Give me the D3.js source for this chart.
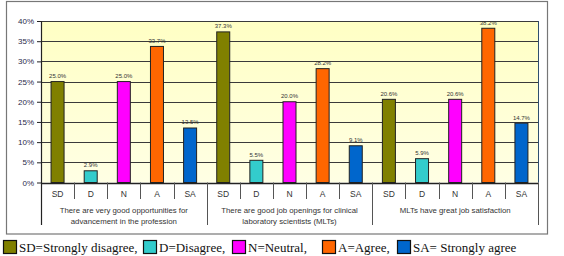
<!DOCTYPE html>
<html>
<head>
<meta charset="utf-8">
<script src="https://cdn.jsdelivr.net/npm/d3@7"></script>
<style>
  body { margin: 0; background: #fff; }
  svg { display: block; }
</style>
</head>
<body>
<div id="chart"></div>
<script>
// data
const groups = [
    ["There are very good opportunities for", "advancement in the profession"],
    ["There are good job openings for clinical", "laboratory scientists (MLTs)"],
    ["MLTs have great job satisfaction"]
];
const responses = ["SD", "D", "N", "A", "SA"];
const values = [
    [25.0, 2.9, 25.0, 33.7, 13.5],
    [37.3, 5.5, 20.0, 28.2, 9.1],
    [20.6, 5.9, 20.6, 38.2, 14.7]
];
const legendLabels = ["SD=Strongly disagree,", "D=Disagree,", "N=Neutral,", "A=Agree,", "SA= Strongly agree"];
const colors = ["#808000", "#33CCCC", "#FF00FF", "#FF6600", "#0066CC"];
const yTicks = [0, 5, 10, 15, 20, 25, 30, 35, 40];

const width = 564, height = 256;
const plot = {left: 41, right: 538, top: 21, bottom: 182.5};

const svg = d3.select("#chart").append("svg")
    .attr("width", width)
    .attr("height", height);

// outer frame
svg.append("rect")
    .attr("x", 6.5).attr("y", 1.5)
    .attr("width", 541).attr("height", 232.5)
    .attr("fill", "none")
    .attr("stroke", "#777")
    .attr("stroke-width", 1.2);

const grad = svg.append("defs").append("linearGradient")
    .attr("id", "bg").attr("x1", 0).attr("y1", 0).attr("x2", 0).attr("y2", 1);
grad.append("stop").attr("offset", 0).attr("stop-color", "#FFFFC4");
grad.append("stop").attr("offset", 1).attr("stop-color", "#FFFFE4");

// flat list of bars
const bars = [];
values.forEach((row, g) => row.forEach((v, i) => {
    bars.push({key: g + "-" + i, g: g, i: i, v: v});
}));

const x = d3.scaleBand()
    .domain(bars.map(d => d.key))
    .range([plot.left, plot.right])
    .padding(0);
const y = d3.scaleLinear()
    .domain([0, 40])
    .range([plot.bottom, plot.top]);

svg.append("rect")
    .attr("x", plot.left).attr("y", plot.top)
    .attr("width", plot.right - plot.left)
    .attr("height", plot.bottom - plot.top)
    .attr("fill", "url(#bg)");

// gridlines
svg.append("g")
    .selectAll("line")
    .data(yTicks)
    .join("line")
    .attr("x1", plot.left).attr("x2", plot.right)
    .attr("y1", d => Math.round(y(d)) + 0.5)
    .attr("y2", d => Math.round(y(d)) + 0.5)
    .attr("stroke", "#3a3a3a")
    .attr("stroke-width", 1.2);

// right border of plot
svg.append("line")
    .attr("x1", plot.right + 0.5).attr("x2", plot.right + 0.5)
    .attr("y1", plot.top).attr("y2", plot.bottom)
    .attr("stroke", "#2f4f6f");

// y axis
const yAxis = svg.append("g")
    .attr("transform", "translate(" + plot.left + ",0)")
    .call(d3.axisLeft(y).tickValues(yTicks).tickFormat(d => d + "%").tickSize(4).tickPadding(3));
yAxis.select(".domain").remove();
yAxis.selectAll("line").attr("stroke", "#222");
yAxis.selectAll("text")
    .style("font-family", "Arial, 'Liberation Sans', sans-serif")
    .style("font-size", "8px")
    .attr("fill", "#2a2a4a");

// axis lines
svg.append("line")
    .attr("x1", plot.left + 0.5).attr("x2", plot.left + 0.5)
    .attr("y1", plot.top).attr("y2", 225)
    .attr("stroke", "#222").attr("stroke-width", 1.2);

// bars
const barW = 13;
svg.append("g")
    .selectAll("rect")
    .data(bars)
    .join("rect")
    .attr("x", d => x(d.key) + x.bandwidth() / 2 - barW / 2)
    .attr("y", d => y(d.v))
    .attr("width", barW)
    .attr("height", d => y(0) - y(d.v))
    .attr("fill", d => colors[d.i])
    .attr("stroke", "#222")
    .attr("stroke-width", 1);

// value labels
svg.append("g")
    .selectAll("text")
    .data(bars)
    .join("text")
    .attr("x", d => x(d.key) + x.bandwidth() / 2)
    .attr("y", d => y(d.v) - 3.5)
    .attr("text-anchor", "middle")
    .style("font-family", "Arial, 'Liberation Sans', sans-serif")
    .style("font-size", "6px")
    .attr("fill", "#333")
    .text(d => d.v.toFixed(1) + "%");

// x axis line
svg.append("line")
    .attr("x1", plot.left).attr("x2", plot.right + 1)
    .attr("y1", Math.round(y(0)) + 0.5).attr("y2", Math.round(y(0)) + 0.5)
    .attr("stroke", "#222").attr("stroke-width", 1.4);

// category separators
svg.append("g")
    .selectAll("line")
    .data(bars.filter(d => d.i > 0))
    .join("line")
    .attr("x1", d => Math.round(x(d.key)) + 0.5)
    .attr("x2", d => Math.round(x(d.key)) + 0.5)
    .attr("y1", y(0)).attr("y2", 199)
    .attr("stroke", "#555");

// group separators
const groupEdges = [1, 2, 3].map(g => g < 3 ? x(g + "-0") : plot.right);
svg.append("g")
    .selectAll("line")
    .data(groupEdges)
    .join("line")
    .attr("x1", d => Math.round(d) + 0.5)
    .attr("x2", d => Math.round(d) + 0.5)
    .attr("y1", y(0)).attr("y2", 225)
    .attr("stroke", "#555");

// category labels
svg.append("g")
    .selectAll("text")
    .data(bars)
    .join("text")
    .attr("x", d => x(d.key) + x.bandwidth() / 2)
    .attr("y", 197)
    .attr("text-anchor", "middle")
    .style("font-family", "Arial, 'Liberation Sans', sans-serif")
    .style("font-size", "8.5px")
    .attr("fill", "#333")
    .text(d => responses[d.i]);

// group labels
const groupText = svg.append("g")
    .selectAll("text")
    .data(groups)
    .join("text")
    .attr("x", (d, g) => (x(g + "-0") + x(g + "-4") + x.bandwidth()) / 2)
    .attr("y", 213)
    .attr("text-anchor", "middle")
    .style("font-family", "Arial, 'Liberation Sans', sans-serif")
    .style("font-size", "7.8px")
    .attr("fill", "#333");
groupText.selectAll("tspan")
    .data(d => d)
    .join("tspan")
    .attr("x", function () { return d3.select(this.parentNode).attr("x"); })
    .attr("dy", (d, i) => i === 0 ? 0 : 11)
    .text(d => d);

// legend
const legendX = [3, 143, 232, 322, 397];
const legend = svg.append("g")
    .selectAll("g")
    .data(legendLabels)
    .join("g")
    .attr("transform", (d, i) => "translate(" + legendX[i] + ",240)");
legend.append("rect")
    .attr("x", 0.5).attr("y", 0.5)
    .attr("width", 13).attr("height", 13)
    .attr("fill", (d, i) => colors[i])
    .attr("stroke", "#111")
    .attr("stroke-width", 1.2);
legend.append("text")
    .attr("x", 16)
    .attr("y", 12)
    .style("font-family", "'Liberation Serif', 'Times New Roman', serif")
    .style("font-size", "13px")
    .attr("fill", "#111")
    .text(d => d);
</script>
</body>
</html>
